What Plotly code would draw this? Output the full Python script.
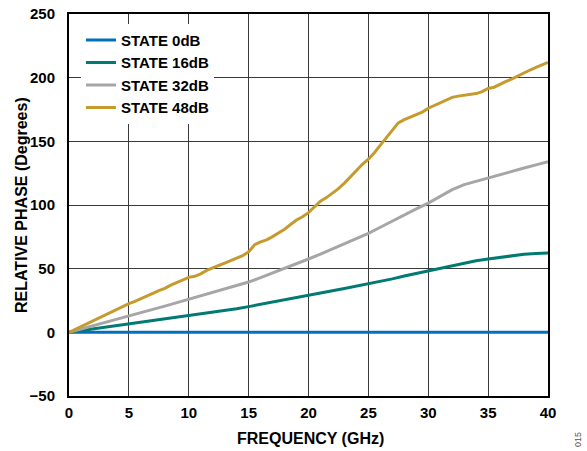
import plotly.graph_objects as go

freq_1 = list(range(0, 41))
state0 = [0.0] * 41
state16 = [0, 1.3, 2.6, 3.9, 5.1, 6.4, 7.7, 9.0, 10.3, 11.6, 13.0, 14.4, 15.8, 17.2, 18.6,
           20.2, 21.9, 23.6, 25.4, 27.3, 29.2, 30.9, 32.6, 34.4, 36.2, 38.0, 40.0, 42.0,
           44.2, 46.3, 48.4, 50.5, 52.6, 54.6, 56.2, 57.6, 59.0, 60.3, 61.3, 62.0, 62.4]
state32 = [0, 2.5, 5.0, 7.5, 10.0, 12.7, 15.3, 18.0, 20.6, 23.3, 26.0, 28.6, 31.2, 33.8,
           36.5, 39.5, 43.0, 46.5, 50.0, 53.8, 57.6, 61.5, 65.5, 69.5, 73.6, 77.8, 82.5,
           87.5, 92.5, 97.0, 101.5, 107.0, 112.0, 116.0, 118.7, 121.0, 123.8, 126.5,
           129.0, 131.5, 134.0]
freq_05 = [i * 0.5 for i in range(81)]
state48 = [0, 2.3, 4.6, 6.8, 9.2, 11.3, 13.8, 15.7, 18.2, 20.3, 22.6, 24.3, 26.6, 28.3,
           30.6, 32.7, 34.5, 37.0, 39.1, 41.4, 43.2, 44.0, 45.9, 48.6, 50.8, 52.5, 54.3,
           56.4, 58.1, 60.2, 63.2, 68.8, 71.0, 72.6, 75.2, 77.8, 81.0, 84.7, 88.2, 90.8,
           94.0, 98.6, 103.0, 105.8, 109.0, 112.8, 117.2, 122.0, 127.5, 132.0, 136.0,
           141.0, 147.0, 153.0, 159.0, 164.5, 167.0, 169.0, 171.0, 173.0, 176.0, 178.0,
           180.0, 182.5, 184.5, 185.5, 186.0, 186.5, 187.5, 189.0, 191.5, 192.5, 195.0,
           197.0, 199.0, 201.5, 203.5, 206.0, 208.0, 210.0, 212.0]

names = ["STATE 0dB", "STATE 16dB", "STATE 32dB", "STATE 48dB"]
colors = ["#0070B8", "#007A72", "#A6A6A6", "#C69B2E"]
x_ticks = list(range(0, 41, 5))
y_ticks = list(range(-50, 251, 50))

fig = go.Figure()
series = [(freq_1, state0), (freq_1, state16), (freq_1, state32), (freq_05, state48)]
for (xs, ys), n, c in zip(series, names, colors):
    fig.add_trace(go.Scatter(x=xs, y=ys, mode="lines", name=n,
                             line=dict(color=c, width=3)))

font_fam = "Arial, Liberation Sans, sans-serif"
L, R, T, B = 69, 39, 14, 55
W, H = 587, 451
fig.update_layout(
    width=W, height=H,
    margin=dict(l=L, r=R, t=T, b=B, autoexpand=False),
    paper_bgcolor="white", plot_bgcolor="white",
    font=dict(family=font_fam, color="black"),
    showlegend=True,
    legend=dict(x=0.025, y=0.9745, xanchor="left", yanchor="top",
                bgcolor="white", borderwidth=0,
                font=dict(family=font_fam, size=15, color="black", weight="bold"),
                itemwidth=30, tracegroupgap=0),
    xaxis=dict(range=[0, 40], tickvals=x_ticks, automargin=False,
               showgrid=True, gridcolor="#3a3a3a", gridwidth=1,
               showline=True, linecolor="black", linewidth=2, mirror=True,
               zeroline=False, ticks="", ticklen=0, ticklabelstandoff=2,
               tickfont=dict(family=font_fam, size=15, color="black", weight="bold")),
    yaxis=dict(range=[-50, 250], tickvals=y_ticks, automargin=False,
               showgrid=True, gridcolor="#3a3a3a", gridwidth=1,
               showline=True, linecolor="black", linewidth=2, mirror=True,
               zeroline=False, ticks="", ticklen=0, ticklabelstandoff=9,
               tickfont=dict(family=font_fam, size=15, color="black", weight="bold")),
)
pw, ph = W - L - R, H - T - B
def px_x(p):
    return (p - L) / pw
def px_y(p):
    return (H - B - p) / ph
title_font = dict(family=font_fam, size=16, color="black", weight="bold")
fig.add_annotation(text="FREQUENCY (GHz)", x=px_x(310), y=px_y(439), xref="paper", yref="paper",
                   xanchor="center", yanchor="middle", showarrow=False, font=title_font)
fig.add_annotation(text="RELATIVE PHASE (Degrees)", x=px_x(21), y=px_y(205), xref="paper",
                   yref="paper", xanchor="center", yanchor="middle",
                   showarrow=False, textangle=-90, font=title_font)
fig.add_annotation(text="015", x=px_x(578), y=px_y(440), xref="paper", yref="paper",
                   xanchor="center", yanchor="middle", showarrow=False, textangle=-90,
                   font=dict(family=font_fam, size=9, color="#555555"))
fig.write_html("out.html")
